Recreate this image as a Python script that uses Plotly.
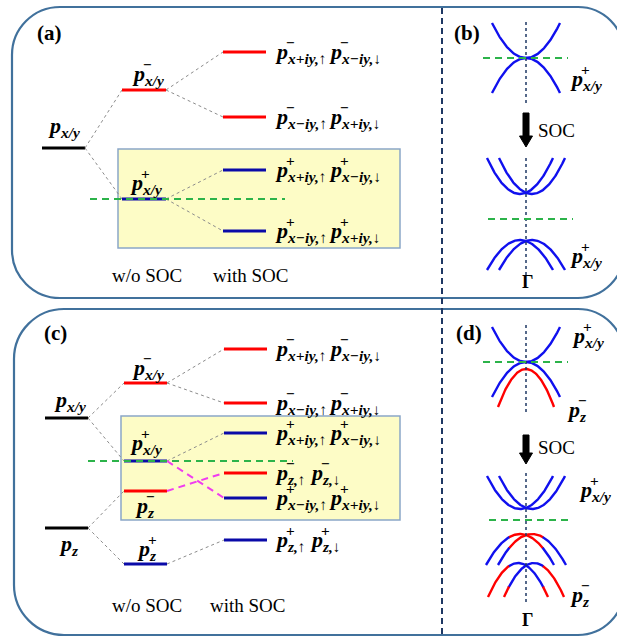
import numpy as np
import plotly.graph_objects as go

SERIF = "Liberation Serif, Times New Roman, Times, serif"
RED, BLUE, BLACK = "#ff0000", "#0a0aa8", "#000000"
BAND_BLUE = "#1010ee"
GREEN, MAGENTA = "#2cb34a", "#f03cf0"
GAMMA_X = 526

# ---------------- panel (a): p_x/y levels ----------------
a_base = [148]                       # p_x/y
a_wo = [90, 199]                     # p-_x/y, p+_x/y
a_wo_col = [RED, BLUE]
a_soc = [52, 117, 170, 231]
a_soc_col = [RED, RED, BLUE, BLUE]
a_soc_parent = [0, 0, 1, 1]
a_fermi = 199
a_soc_labels = [("−", "x+iy,↑", "−", "x−iy,↓"),
                ("−", "x−iy,↑", "−", "x+iy,↓"),
                ("+", "x+iy,↑", "+", "x−iy,↓"),
                ("+", "x−iy,↑", "+", "x+iy,↓")]

# ---------------- panel (c): p_x/y and p_z levels ----------------
c_base = [418, 528]                  # p_x/y, p_z
c_wo = [383, 461, 491, 564]          # p-_x/y, p+_x/y, p-_z, p+_z
c_wo_col = [RED, BLUE, RED, BLUE]
c_wo_parent = [0, 0, 1, 1]
c_soc = [349, 403, 433, 473, 498, 540]
c_soc_col = [RED, RED, BLUE, RED, BLUE, BLUE]
c_soc_parent = [0, 0, 1, 2, 1, 3]
c_soc_cross = [False, False, False, True, True, False]
c_fermi = 461
c_soc_labels = [("−", "x+iy,↑", "−", "x−iy,↓"),
                ("−", "x−iy,↑", "−", "x+iy,↓"),
                ("+", "x+iy,↑", "+", "x−iy,↓"),
                ("−", "z,↑", "−", "z,↓"),
                ("+", "x−iy,↑", "+", "x+iy,↓"),
                ("+", "z,↑", "+", "z,↓")]

# ---------------- panels (b), (d): schematic bands near Γ ----------------
# (vertex energy, k-shift, half width, depth, opening: +1 up / -1 down, inner colour, outer colour)
b_bands = [
    (58, 0, 34, 35, +1, BAND_BLUE, BAND_BLUE),
    (58, 0, 34, 35, -1, BAND_BLUE, BAND_BLUE),
    (194, -6, 33, 36, +1, BAND_BLUE, BAND_BLUE),
    (194, 6, 33, 36, +1, BAND_BLUE, BAND_BLUE),
    (240, -6, 33, 30, -1, BAND_BLUE, BAND_BLUE),
    (240, 6, 33, 30, -1, BAND_BLUE, BAND_BLUE),
]
d_bands = [
    (362, 0, 34, 35, +1, BAND_BLUE, BAND_BLUE),
    (362, 0, 34, 35, -1, BAND_BLUE, BAND_BLUE),
    (369, 0, 28, 38, -1, RED, RED),
    (509, -6, 33, 33, +1, BAND_BLUE, BAND_BLUE),
    (509, 6, 33, 33, +1, BAND_BLUE, BAND_BLUE),
    (534, -6, 34, 31, -1, RED, BAND_BLUE),
    (534, 6, 34, 31, -1, RED, BAND_BLUE),
    (563, -8, 30, 34, -1, BAND_BLUE, RED),
    (563, 8, 30, 34, -1, BAND_BLUE, RED),
]
b_fermi = [(58, 483, 568), (219, 488, 573)]
d_fermi = [(362, 483, 568), (520, 489, 573)]

fig = go.Figure()
shapes, anns = [], []


def line(x0, y0, x1, y1, color, width=1, dash=None):
    d = dict(type="line", x0=x0, y0=y0, x1=x1, y1=y1, layer="above",
             line=dict(color=color, width=width))
    if dash:
        d["line"]["dash"] = dash
    shapes.append(d)


def rrect(x0, y0, x1, y1, rl, rr, color):
    k = 0.5523
    p = (f"M {x0+rl},{y0} L {x1-rr},{y0} "
         f"C {x1-rr+k*rr},{y0} {x1},{y0+rr-k*rr} {x1},{y0+rr} "
         f"L {x1},{y1-rr} C {x1},{y1-rr+k*rr} {x1-rr+k*rr},{y1} {x1-rr},{y1} "
         f"L {x0+rl},{y1} C {x0+rl-k*rl},{y1} {x0},{y1-rl+k*rl} {x0},{y1-rl} "
         f"L {x0},{y0+rl} C {x0},{y0+rl-k*rl} {x0+rl-k*rl},{y0} {x0+rl},{y0} Z")
    shapes.append(dict(type="path", path=p, line=dict(color=color, width=2.2),
                       layer="below"))


def text(x, y, s, size=19, bold=False, xanchor="center"):
    if bold:
        s = f"<b>{s}</b>"
    anns.append(dict(x=x, y=y, text=s, showarrow=False, xanchor=xanchor,
                     yanchor="middle", font=dict(family=SERIF, size=size, color="black")))


def p_label(x, y, sub, sign=None, size=22):
    anns.append(dict(x=x, y=y, text=f"<b><i>p<sub>{sub}</sub></i></b>", showarrow=False,
                     xanchor="left", yanchor="middle",
                     font=dict(family=SERIF, size=size, color="black")))
    if sign:
        anns.append(dict(x=x + 0.5 * size, y=y - 0.5 * size, text=f"<b>{sign}</b>",
                         showarrow=False, xanchor="left", yanchor="middle",
                         font=dict(family=SERIF, size=0.7 * size, color="black")))


def level(x0, x1, y, color):
    line(x0, y, x1, y, color, width=3.2)


def connector(x0, y0, x1, y1):
    line(x0, y0, x1, y1, "#8c8c8c", width=1, dash="dot")


def soc_pair_label(x, y, lab):
    s1, sub1, s2, sub2 = lab
    p_label(x, y, sub1, s1)
    p_label(x + (54 if len(sub1) > 3 else 35), y, sub2, s2)


def arrow(x, y0, y1):
    head = y1 - 11
    shapes.append(dict(type="path", fillcolor="black", line=dict(color="black", width=1),
                       path=f"M {x-3},{y0} L {x+3},{y0} L {x+3},{head} L {x+6.5},{head} "
                            f"L {x},{y1} L {x-6.5},{head} L {x-3},{head} Z"))


def bands(spec):
    for yv, shift, hw, depth, sgn, cin, cout in spec:
        x0 = GAMMA_X + shift
        xs = np.linspace(x0 - hw, x0 + hw, 121)
        ys = yv - sgn * depth * ((xs - x0) / hw) ** 2
        if cin == cout:
            parts = [(np.ones_like(xs, bool), cin)]
        else:
            inner = np.abs(xs - GAMMA_X) <= 17
            parts = [(inner, cin), (~inner, cout)]
        for mask, col in parts:
            # keep segments continuous across the colour boundary
            m = mask.copy()
            m[1:] |= mask[:-1]
            m[:-1] |= mask[1:]
            fig.add_trace(go.Scatter(x=np.where(m, xs, np.nan), y=np.where(m, ys, np.nan),
                                     mode="lines", hoverinfo="skip", connectgaps=False,
                                     line=dict(color=col, width=2.4)))


# panel frames and separator
rrect(12, 7, 624, 298, 48, 46, "#41719c")
rrect(14, 309, 624, 635, 50, 46, "#41719c")
line(442, 8, 442, 637, "#1f3864", width=2, dash="6px,4px")

# ---------- (a) ----------
shapes.append(dict(type="rect", x0=118, y0=149, x1=400, y1=248, fillcolor="#fdfcc6",
                   line=dict(color="#8aa6c8", width=1.5), layer="below"))
text(49, 33, "(a)", size=21, bold=True)
bx = (42, 85); wx = (122, 166); sx = (223, 266)
for y in a_base:
    level(*bx, y, BLACK)
    for yw in a_wo:
        connector(bx[1], y, wx[0], yw)
for yw, col in zip(a_wo, a_wo_col):
    level(*wx, yw, col)
for ys, col, par in zip(a_soc, a_soc_col, a_soc_parent):
    connector(wx[1], a_wo[par], sx[0], ys)
    level(*sx, ys, col)
line(90, a_fermi, 285, a_fermi, GREEN, width=2.2, dash="7px,5px")
p_label(46, 127, "x/y")
p_label(130, 75, "x/y", "−")
p_label(128, 184, "x/y", "+")
for ys, lab in zip(a_soc, a_soc_labels):
    soc_pair_label(273, ys + 1, lab)
text(147, 275, "w/o SOC")
text(251, 275, "with SOC")

# ---------- (c) ----------
shapes.append(dict(type="rect", x0=121, y0=416, x1=400, y1=520, fillcolor="#fdfcc6",
                   line=dict(color="#8aa6c8", width=1.5), layer="below"))
text(55, 333, "(c)", size=21, bold=True)
bx = (45, 88); wx = (124, 167); sx = (224, 267)
for y in c_base:
    level(*bx, y, BLACK)
for yw, col, par in zip(c_wo, c_wo_col, c_wo_parent):
    connector(bx[1], c_base[par], wx[0], yw)
    level(*wx, yw, col)
for ys, col, par, cross in zip(c_soc, c_soc_col, c_soc_parent, c_soc_cross):
    if cross:
        line(wx[1], c_wo[par], sx[0], ys, MAGENTA, width=2, dash="7px,5px")
    else:
        connector(wx[1], c_wo[par], sx[0], ys)
    level(*sx, ys, col)
line(88, c_fermi, 293, c_fermi, GREEN, width=2.2, dash="7px,5px")
p_label(52, 401, "x/y")
p_label(57, 545, "z")
p_label(130, 369, "x/y", "−")
p_label(128, 444, "x/y", "+")
p_label(133, 507, "z", "−")
p_label(135, 550, "z", "+")
for ys, lab in zip(c_soc, c_soc_labels):
    soc_pair_label(273, ys + 1, lab)
text(147, 605, "w/o SOC")
text(248, 605, "with SOC")

# ---------- (b) ----------
text(467, 33, "(b)", size=21, bold=True)
line(GAMMA_X, 22, GAMMA_X, 103, "#1f3864", width=1.5, dash="dot")
line(GAMMA_X, 158, GAMMA_X, 277, "#1f3864", width=1.5, dash="dot")
bands(b_bands)
for y, x0, x1 in b_fermi:
    line(x0, y, x1, y, GREEN, width=2.2, dash="7px,5px")
arrow(GAMMA_X, 113, 147)
text(536, 130, "SOC", xanchor="left")
p_label(568, 80, "x/y", "+")
p_label(568, 257, "x/y", "+")
text(527, 282, "Γ", size=18, bold=True)

# ---------- (d) ----------
text(469, 333, "(d)", size=21, bold=True)
line(GAMMA_X, 325, GAMMA_X, 412, "#1f3864", width=1.5, dash="dot")
line(GAMMA_X, 473, GAMMA_X, 603, "#1f3864", width=1.5, dash="dot")
bands(d_bands)
for y, x0, x1 in d_fermi:
    line(x0, y, x1, y, GREEN, width=2.2, dash="7px,5px")
arrow(GAMMA_X, 435, 464)
text(536, 447, "SOC", xanchor="left")
p_label(570, 337, "x/y", "+")
p_label(565, 411, "z", "−")
p_label(577, 491, "x/y", "+")
p_label(568, 596, "z", "−")
text(527, 620, "Γ", size=18, bold=True)

fig.update_layout(
    width=617, height=637, margin=dict(l=0, r=0, t=0, b=0),
    paper_bgcolor="white", plot_bgcolor="white", showlegend=False,
    xaxis=dict(range=[0, 617], visible=False, fixedrange=True),
    yaxis=dict(range=[637, 0], visible=False, fixedrange=True),
    shapes=shapes, annotations=anns,
)
fig.write_html("out.html")
